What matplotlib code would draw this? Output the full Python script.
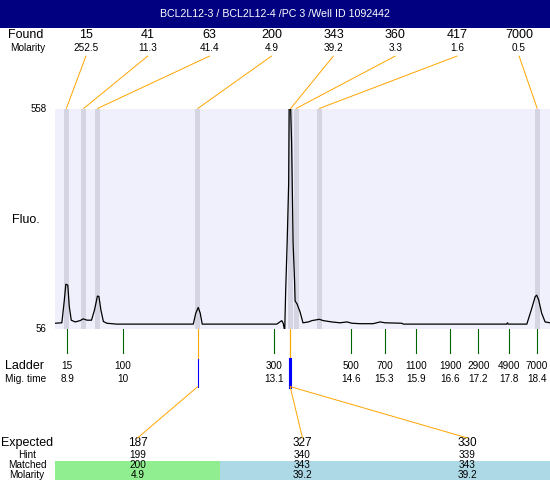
import matplotlib
matplotlib.use("Agg")
import matplotlib.pyplot as plt
from matplotlib.patches import ConnectionPatch, Rectangle
from matplotlib.transforms import blended_transform_factory

plt.rcParams['font.family'] = ['Liberation Sans', 'DejaVu Sans']

title = "BCL2L12-3 / BCL2L12-4 /PC 3 /Well ID 1092442"

# electropherogram trace (migration time s, fluorescence)
mig_time = [8.65, 8.79, 8.84, 8.87, 8.91, 8.94, 8.98, 9.06, 9.16, 9.22, 9.30, 9.39,
            9.45, 9.51, 9.54, 9.58, 9.63, 9.70, 9.90, 11.45, 11.50, 11.55, 11.59, 11.63,
            13.14, 13.24, 13.27, 13.30, 13.32, 13.35, 13.38, 13.39, 13.42, 13.44, 13.47,
            13.50, 13.51, 13.55, 13.61, 13.67, 13.78, 13.85, 14.00, 14.08, 14.25, 14.42,
            14.56, 14.66, 14.82, 15.09, 15.23, 15.33, 15.67, 15.70, 17.79, 17.81, 17.82,
            18.20, 18.30, 18.37, 18.40, 18.44, 18.50, 18.57, 18.67]
fluo = [68, 69, 121, 157, 155, 106, 75, 71, 74, 78, 75, 75,
        98, 130, 129, 98, 72, 68, 66, 66, 91, 104, 91, 66,
        66, 74, 68, 50, 144, 254, 387, 558, 558, 479, 250,
        163, 119, 112, 94, 69, 71, 74, 77, 74, 71, 69,
        71, 68, 67, 67, 71, 69, 68, 66, 66, 69, 66,
        66, 102, 129, 132, 121, 91, 71, 69]

# found peaks
found_size = [15, 41, 63, 200, 343, 360, 417, 7000]
found_molarity = [252.5, 11.3, 41.4, 4.9, 39.2, 3.3, 1.6, 0.5]
found_time = [8.88, 9.23, 9.51, 11.54, 13.42, 13.53, 14.00, 18.41]

# ladder
ladder_size = [15, 100, 300, 500, 700, 1100, 1900, 2900, 4900, 7000]
ladder_time = [8.90, 10.02, 13.09, 14.65, 15.32, 15.96, 16.65, 17.22, 17.84, 18.40]
ladder_time_label = ["8.9", "10", "13.1", "14.6", "15.3", "15.9", "16.6", "17.2", "17.8", "18.4"]

# expected / matched
expected_size = [187, 327, 330]
hint_size = [199, 340, 339]
matched_size = [200, 343, 343]
matched_molarity = [4.9, 39.2, 39.2]
matched_time = [11.54, 13.41, 13.41]
matched_colors = ["#90EE90", "#ADD8E6", "#ADD8E6"]

y_min, y_max = 56, 558

orange = "#FFA500"
navy = "#000080"
band = "#D4D4E2"
plot_bg = "#F0F0FD"

fig = plt.figure(figsize=(5.5, 4.8), dpi=100)
ax0 = fig.add_axes([0, 0, 1, 1], zorder=0)
ax0.set_xlim(0, 550)
ax0.set_ylim(480, 0)
ax0.axis('off')

ax = fig.add_axes([55 / 550, (480 - 328.5) / 480, 495 / 550, 220 / 480], zorder=1)
ax.set_facecolor(plot_bg)
ax.set_xlim(8.651, 18.669)
ax.set_ylim(y_min, y_max)
for s in ax.spines.values():
    s.set_visible(False)
ax.set_xticks([])
ax.set_yticks([y_min, y_max])
ax.set_yticklabels([str(y_min), str(y_max)], fontsize=7)
ax.tick_params(axis='y', length=0, pad=6)

for t in found_time:
    ax.axvspan(t - 0.05, t + 0.05, color=band, lw=0)
ax.plot(mig_time, fluo, color='black', lw=0.9)

# title bar
ax0.add_patch(Rectangle((0, 0), 550, 28, color=navy, lw=0))
ax0.text(275, 14, title, color='white', fontsize=7.7, ha='center', va='center')

# found row
ax0.text(8, 35, "Found", fontsize=9, ha='left', va='center')
ax0.text(10, 48, "Molarity", fontsize=7.2, ha='left', va='center')
slot = 495 / len(found_size)
for i, (sz, mol, t) in enumerate(zip(found_size, found_molarity, found_time)):
    x = 55 + (i + 0.5) * slot
    ax0.text(x, 35, str(sz), fontsize=9, ha='center', va='center')
    ax0.text(x, 48, str(mol), fontsize=7.2, ha='center', va='center')
    con = ConnectionPatch(xyA=(x, 56), coordsA=ax0.transData, xyB=(t, y_max),
                          coordsB=ax.transData, color=orange, lw=0.7, zorder=5)
    fig.add_artist(con)

ax0.text(12, 220, "Fluo.", fontsize=9, ha='left', va='center')

# ladder
btf = blended_transform_factory(ax.transData, ax0.transData)
ax0.text(5, 366, "Ladder", fontsize=9, ha='left', va='center')
ax0.text(5, 379, "Mig. time", fontsize=7.3, ha='left', va='center')
for sz, t, lab in zip(ladder_size, ladder_time, ladder_time_label):
    ax0.plot([t, t], [328.5, 353], color='#006400', lw=0.8, transform=btf, clip_on=False)
    ax0.text(t, 366, str(sz), fontsize=7.2, ha='center', va='center', transform=btf)
    ax0.text(t, 379, lab, fontsize=7.2, ha='center', va='center', transform=btf)

# expected / matched
ax0.text(27, 443, "Expected", fontsize=9, ha='center', va='center')
ax0.text(27, 455, "Hint", fontsize=7.2, ha='center', va='center')
ax0.text(27, 465.5, "Matched", fontsize=7.2, ha='center', va='center')
ax0.text(27, 474.5, "Molarity", fontsize=7.2, ha='center', va='center')
eslot = 495 / len(expected_size)
for i, (e, h, m, mol, t, c) in enumerate(zip(expected_size, hint_size, matched_size,
                                              matched_molarity, matched_time, matched_colors)):
    x = 55 + (i + 0.5) * eslot
    n_same = matched_time.count(t)
    ax0.add_patch(Rectangle((55 + i * eslot, 461), eslot, 19, color=c, lw=0))
    ax0.text(x, 443, str(e), fontsize=8.5, ha='center', va='center')
    ax0.text(x, 455, str(h), fontsize=7.2, ha='center', va='center')
    ax0.text(x, 465.5, str(m), fontsize=7.2, ha='center', va='center')
    ax0.text(x, 474.5, str(mol), fontsize=7.2, ha='center', va='center')
    ax0.plot([t, t], [328.5, 358.6], color=orange, lw=0.8, transform=btf, clip_on=False)
    ax0.plot([t, t], [358.6, 386.6], color='blue', lw=0.8 if n_same == 1 else 2.2,
             transform=btf, clip_on=False)
    con = ConnectionPatch(xyA=(t, 386.6), coordsA=btf, xyB=(x, 438),
                          coordsB=ax0.transData, color=orange, lw=0.7, zorder=5)
    fig.add_artist(con)

fig.savefig("out.png", dpi=100)
